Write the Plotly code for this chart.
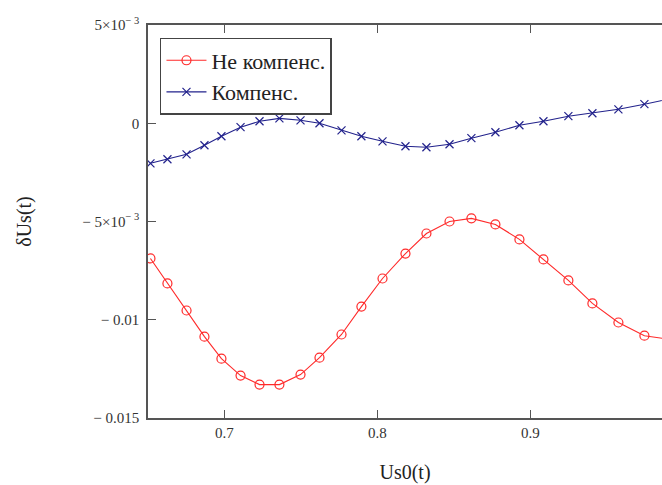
import plotly.graph_objects as go

# Us0(t) sample positions (shared by both series)
us0 = [0.6516, 0.6627, 0.6752, 0.6869, 0.6980, 0.7105, 0.7229, 0.7359,
       0.7497, 0.7621, 0.7765, 0.7895, 0.8033, 0.8183, 0.8320, 0.8471,
       0.8614, 0.8771, 0.8928, 0.9085, 0.9248, 0.9405, 0.9575, 0.9745, 0.9915]

# "Не компенс." series
not_comp = [-0.00688, -0.00815, -0.00953, -0.01086, -0.01198, -0.01284, -0.01330, -0.01330,
            -0.01279, -0.01193, -0.01075, -0.00933, -0.00790, -0.00663, -0.00561, -0.00500,
            -0.00484, -0.00515, -0.00591, -0.00693, -0.00800, -0.00917, -0.01014, -0.01081, -0.01100]

# "Компенс." series
comp = [-0.00204, -0.00183, -0.00158, -0.00112, -0.00066, -0.00020, 0.00010, 0.00025,
        0.00015, 0.00000, -0.00036, -0.00066, -0.00092, -0.00117, -0.00122, -0.00107,
        -0.00076, -0.00046, -0.00010, 0.00010, 0.00036, 0.00051, 0.00071, 0.00097, 0.00125]

y_tickvals = [0.005, 0.0, -0.005, -0.01, -0.015]
y_ticktext = ["5×10<sup>− 3</sup>", "0", "− 5×10<sup>− 3</sup>", "− 0.01", "− 0.015"]
x_tickvals = [0.7, 0.8, 0.9]
x_ticktext = ["0.7", "0.8", "0.9"]

serif = "Liberation Serif, Times New Roman, serif"
axis_col = "#555555"
text_col = "#333333"

fig = go.Figure()
fig.add_trace(go.Scatter(
    x=us0, y=not_comp, name="Не компенс.", mode="lines+markers",
    line=dict(color="#ff2a2a", width=1.1),
    marker=dict(symbol="circle-open", size=9, color="#ff2a2a", line=dict(width=1.2)),
))
fig.add_trace(go.Scatter(
    x=us0, y=comp, name="Компенс.", mode="lines+markers",
    line=dict(color="#22228c", width=1.1),
    marker=dict(symbol="x-thin-open", size=8, color="#22228c", line=dict(width=1.2, color="#22228c")),
))

fig.update_layout(
    width=662, height=485,
    margin=dict(l=148, r=0, t=25, b=67),
    paper_bgcolor="white", plot_bgcolor="white",
    font=dict(family=serif, color=text_col, size=13),
    showlegend=True,
    legend=dict(
        x=0.0233, y=0.967, xanchor="left", yanchor="top",
        bordercolor="#444444", borderwidth=1.5, bgcolor="white",
        font=dict(family=serif, size=22, color="#222222"),
        itemwidth=40, tracegroupgap=0,
    ),
    xaxis=dict(
        range=[0.65, 0.986], tickvals=x_tickvals, ticktext=x_ticktext,
        ticks="inside", ticklen=8, tickcolor=axis_col, tickwidth=1,
        showline=True, linecolor=axis_col, linewidth=1.5, mirror="ticks",
        showgrid=False, zeroline=False,
        tickfont=dict(family=serif, size=15, color=text_col),
        title=dict(text="Us0(t)", font=dict(family=serif, size=20, color="#222222"), standoff=25),
    ),
    yaxis=dict(
        range=[-0.015, 0.005], tickvals=y_tickvals, ticktext=y_ticktext,
        ticks="inside", ticklen=8, tickcolor=axis_col, tickwidth=1,
        showline=True, linecolor=axis_col, linewidth=1.5,
        showgrid=False, zeroline=False,
        tickfont=dict(family=serif, size=15, color=text_col),
        ticklabelstandoff=4,
        title=dict(text="δUs(t)", font=dict(family=serif, size=20, color="#222222"), standoff=45),
    ),
    yaxis2=dict(
        overlaying="y", side="right", anchor="x", matches="y",
        range=[-0.015, 0.005], tickvals=y_tickvals,
        ticks="inside", ticklen=8, tickcolor=axis_col,
        showticklabels=False, showline=False, showgrid=False, zeroline=False,
    ),
)

fig.write_html("out.html", config={"displayModeBar": False})

# remove the default page margin so the figure sits at the window origin
with open("out.html", "r", encoding="utf-8") as f:
    html = f.read()
html = html.replace("<head>", "<head><style>html,body{margin:0;padding:0;overflow:hidden;}</style>", 1)
with open("out.html", "w", encoding="utf-8") as f:
    f.write(html)
